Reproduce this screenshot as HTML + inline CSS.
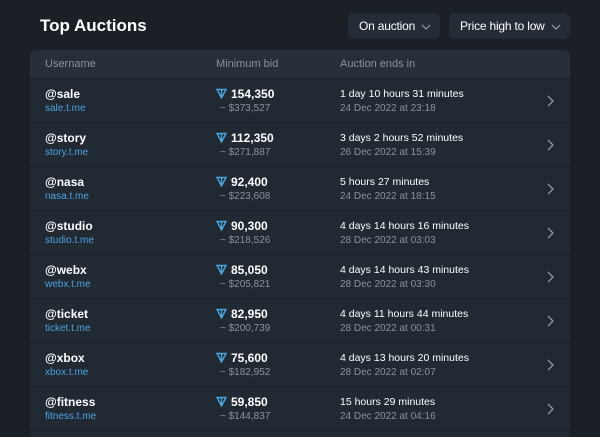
<!DOCTYPE html>
<html><head><style>
html,body{margin:0;width:600px;height:437px;background:#1b1f26;font-family:"Liberation Sans",sans-serif;overflow:hidden;position:relative}
.t{position:absolute;left:40px;top:16px;font-size:17px;font-weight:bold;color:#fff}
.btn{position:absolute;top:13px;height:26px;background:#242c35;border-radius:6px;color:#fff;font-size:12px;line-height:26px;box-sizing:border-box;padding-left:11px;letter-spacing:-0.2px}
.btn svg{position:absolute;right:9px;top:11px}
.card{position:absolute;left:30px;top:50px;width:540px;height:400px;background:#212932;border-radius:7px;overflow:hidden}
.hd{height:28px;background:#27303a;color:#8a939d;font-size:11px;position:relative;border-bottom:1px solid #1b2129}
.hd span{position:absolute;top:8px}
.row{height:43px;border-bottom:1px solid #1b2129;position:relative}
.a{position:absolute;left:15px;top:8px;color:#fff;font-weight:bold;font-size:12px}
.l{position:absolute;left:15px;top:24px;color:#4da3e0;font-size:10px}
.b{position:absolute;left:186px;top:8px;color:#fff;font-weight:bold;font-size:12px}
.b svg{vertical-align:-1px;margin-right:4px}
.u{position:absolute;left:190px;top:24px;color:#8a939d;font-size:10px}
.e{position:absolute;left:310px;top:9px;color:#fff;font-size:10.5px}
.d{position:absolute;left:310px;top:24px;color:#8a939d;font-size:10px}
.c{position:absolute;left:516px;top:16px}
</style></head><body>
<div class="t">Top Auctions</div>
<div class="btn" style="left:348px;width:92px">On auction<svg width="10" height="6"><path d="M1 1l4 4 4-4" stroke="#8a939d" fill="none" stroke-width="1.3"/></svg></div>
<div class="btn" style="left:449px;width:121px">Price high to low<svg width="10" height="6"><path d="M1 1l4 4 4-4" stroke="#8a939d" fill="none" stroke-width="1.3"/></svg></div>
<div class="card">
<div class="hd"><span style="left:15px">Username</span><span style="left:186px">Minimum bid</span><span style="left:310px">Auction ends in</span></div>
<div id="rows"></div>
</div>
<script>
var d=[["sale","154,350","$373,527","1 day 10 hours 31 minutes","24 Dec 2022 at 23:18"],
["story","112,350","$271,887","3 days 2 hours 52 minutes","26 Dec 2022 at 15:39"],
["nasa","92,400","$223,608","5 hours 27 minutes","24 Dec 2022 at 18:15"],
["studio","90,300","$218,526","4 days 14 hours 16 minutes","28 Dec 2022 at 03:03"],
["webx","85,050","$205,821","4 days 14 hours 43 minutes","28 Dec 2022 at 03:30"],
["ticket","82,950","$200,739","4 days 11 hours 44 minutes","28 Dec 2022 at 00:31"],
["xbox","75,600","$182,952","4 days 13 hours 20 minutes","28 Dec 2022 at 02:07"],
["fitness","59,850","$144,837","15 hours 29 minutes","24 Dec 2022 at 04:16"]];
var h="";d.forEach(function(r){h+='<div class="row"><div class="a">@'+r[0]+'</div><div class="l">'+r[0]+'.t.me</div><div class="b"><svg width="11" height="11" viewBox="0 0 11 11"><path d="M1 1.5h9L5.5 10z M5.5 1.5V10" stroke="#4da3e0" fill="none" stroke-width="1.4"/></svg>'+r[1]+'</div><div class="u">~ '+r[2]+'</div><div class="e">'+r[3]+'</div><div class="d">'+r[4]+'</div><svg class="c" width="8" height="12"><path d="M2 1l5 5-5 5" stroke="#8a939d" fill="none" stroke-width="1.4"/></svg></div>'});
document.getElementById("rows").innerHTML=h;
</script>
</body></html>
